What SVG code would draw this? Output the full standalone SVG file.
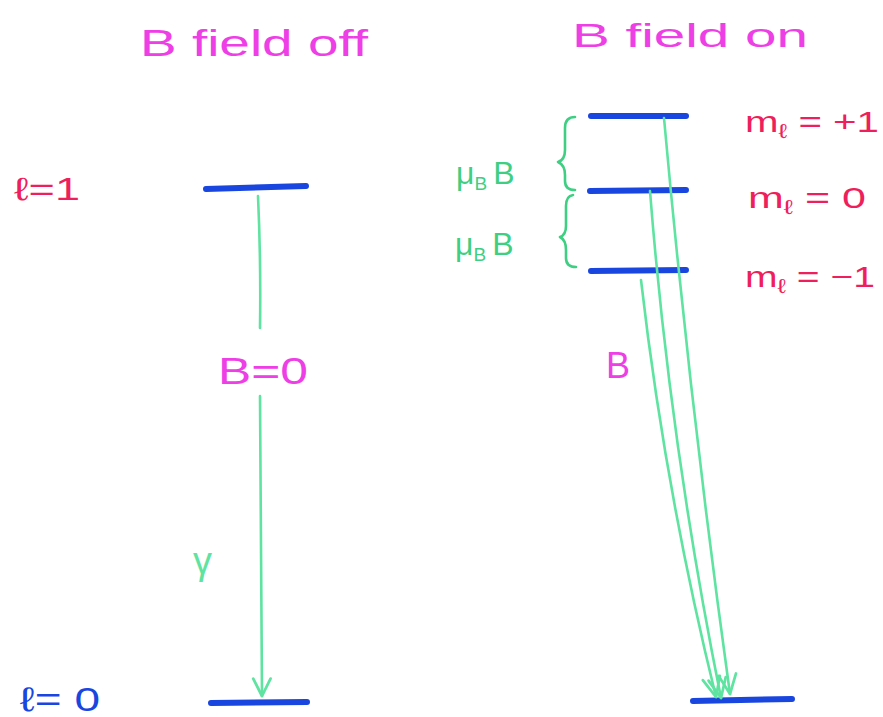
<svg xmlns="http://www.w3.org/2000/svg" width="883" height="717" viewBox="0 0 883 717">
<style>
.lvl{stroke:#1a46e0;stroke-width:6;stroke-linecap:round;fill:none}
.tr{stroke:#5ee3a0;stroke-width:2.6;fill:none;stroke-linecap:round}
.br{stroke:#3ecf82;stroke-width:2.6;fill:none;stroke-linecap:round;stroke-linejoin:round}
.mag{fill:#ee3ee6;font-family:"Liberation Sans",sans-serif}
.red{fill:#ee1f5c;font-family:"Liberation Sans",sans-serif}
.blu{fill:#1a46e0;font-family:"Liberation Sans",sans-serif}
.grn{fill:#3ecf82;font-family:"Liberation Sans",sans-serif}
</style>
<defs>
<marker id="ah" viewBox="0 0 12 12" refX="11" refY="6" markerWidth="8" markerHeight="8" orient="auto" markerUnits="strokeWidth">
<path d="M1,1 L11,6 L1,11" fill="none" stroke="#5ee3a0" stroke-width="1.6" stroke-linecap="round" stroke-linejoin="round"/>
</marker>
<marker id="ahl" viewBox="0 0 12 12" refX="11" refY="6" markerWidth="11" markerHeight="9" orient="auto" markerUnits="strokeWidth">
<path d="M1,1.5 L11,6 L1,10.5" fill="none" stroke="#5ee3a0" stroke-width="1.4" stroke-linecap="round" stroke-linejoin="round"/>
</marker>
</defs>
<rect width="883" height="717" fill="#ffffff"/>
<g id="title-off"><text class="mag" x="140" y="56" font-size="36" textLength="228" lengthAdjust="spacingAndGlyphs">B field off</text></g>
<g id="title-on"><text class="mag" x="572" y="47" font-size="34" textLength="236" lengthAdjust="spacingAndGlyphs">B field on</text></g>
<g id="label-l1"><text class="red" x="14" y="200" font-size="32" textLength="66" lengthAdjust="spacingAndGlyphs">ℓ=1</text></g>
<g id="label-l0"><text class="blu" x="20" y="711" font-size="34" textLength="80" lengthAdjust="spacingAndGlyphs">ℓ= 0</text></g>
<g id="level-l1-off"><line class="lvl" x1="206" y1="189" x2="306" y2="186" stroke-width="7"/></g>
<g id="level-l0-off"><line class="lvl" x1="211" y1="703" x2="307" y2="702"/></g>
<g id="label-B0"><text class="mag" x="218" y="384" font-size="36" textLength="90" lengthAdjust="spacingAndGlyphs">B=0</text></g>
<g id="label-gamma"><text class="grn" x="193" y="574" font-size="38" style="fill:#5ee3a0">γ</text></g>
<g id="level-p1"><line class="lvl" x1="591" y1="116" x2="686" y2="116" stroke-width="5"/></g>
<g id="level-0"><line class="lvl" x1="590" y1="191" x2="686" y2="190" stroke-width="5"/></g>
<g id="level-m1"><line class="lvl" x1="591" y1="271" x2="686" y2="270" stroke-width="5"/></g>
<g id="level-ground"><line class="lvl" x1="693" y1="701" x2="792" y2="699"/></g>
<g id="label-mp1"><text class="red" x="745" y="132" font-size="30" textLength="134" lengthAdjust="spacingAndGlyphs">m<tspan font-size="20" dy="6">ℓ</tspan><tspan dy="-6"> = +1</tspan></text></g>
<g id="label-m0"><text class="red" x="748" y="208" font-size="30" textLength="118" lengthAdjust="spacingAndGlyphs">m<tspan font-size="20" dy="6">ℓ</tspan><tspan dy="-6"> = 0</tspan></text></g>
<g id="label-mm1"><text class="red" x="745" y="287" font-size="30" textLength="130" lengthAdjust="spacingAndGlyphs">m<tspan font-size="20" dy="6">ℓ</tspan><tspan dy="-6"> = −1</tspan></text></g>
<g id="label-muB1"><text class="grn" x="456" y="184" font-size="32">μ<tspan font-size="19" dy="6">B</tspan><tspan dy="-6" dx="6">B</tspan></text></g>
<g id="label-muB2"><text class="grn" x="455" y="255" font-size="32">μ<tspan font-size="19" dy="6">B</tspan><tspan dy="-6" dx="6">B</tspan></text></g>
<g id="label-B"><text class="mag" x="606" y="378" font-size="36">B</text></g>
<g id="brace-1"><path class="br" d="M575,117 Q565,117 565,128 L565,150 Q565,160 558,162 Q565,165 565,175 L565,181 Q565,190 575,190"/></g>
<g id="brace-2"><path class="br" d="M573,195 Q566,196 566,206 L566,226 Q566,235 560,237 Q566,240 566,250 L566,258 Q566,267 576,267"/></g>
<g id="connectors">
<path class="tr" d="M258,196 Q261,262 260,328"/>
<path class="tr" d="M260,396 L262,696" marker-end="url(#ah)"/>
<path class="tr" d="M664,118 Q690,406 730,694" marker-end="url(#ahl)"/>
<path class="tr" d="M650,191 Q670,445 721,698" marker-end="url(#ahl)"/>
<path class="tr" d="M641,280 Q665,490 716,697" marker-end="url(#ahl)"/>
</g>
</svg>
